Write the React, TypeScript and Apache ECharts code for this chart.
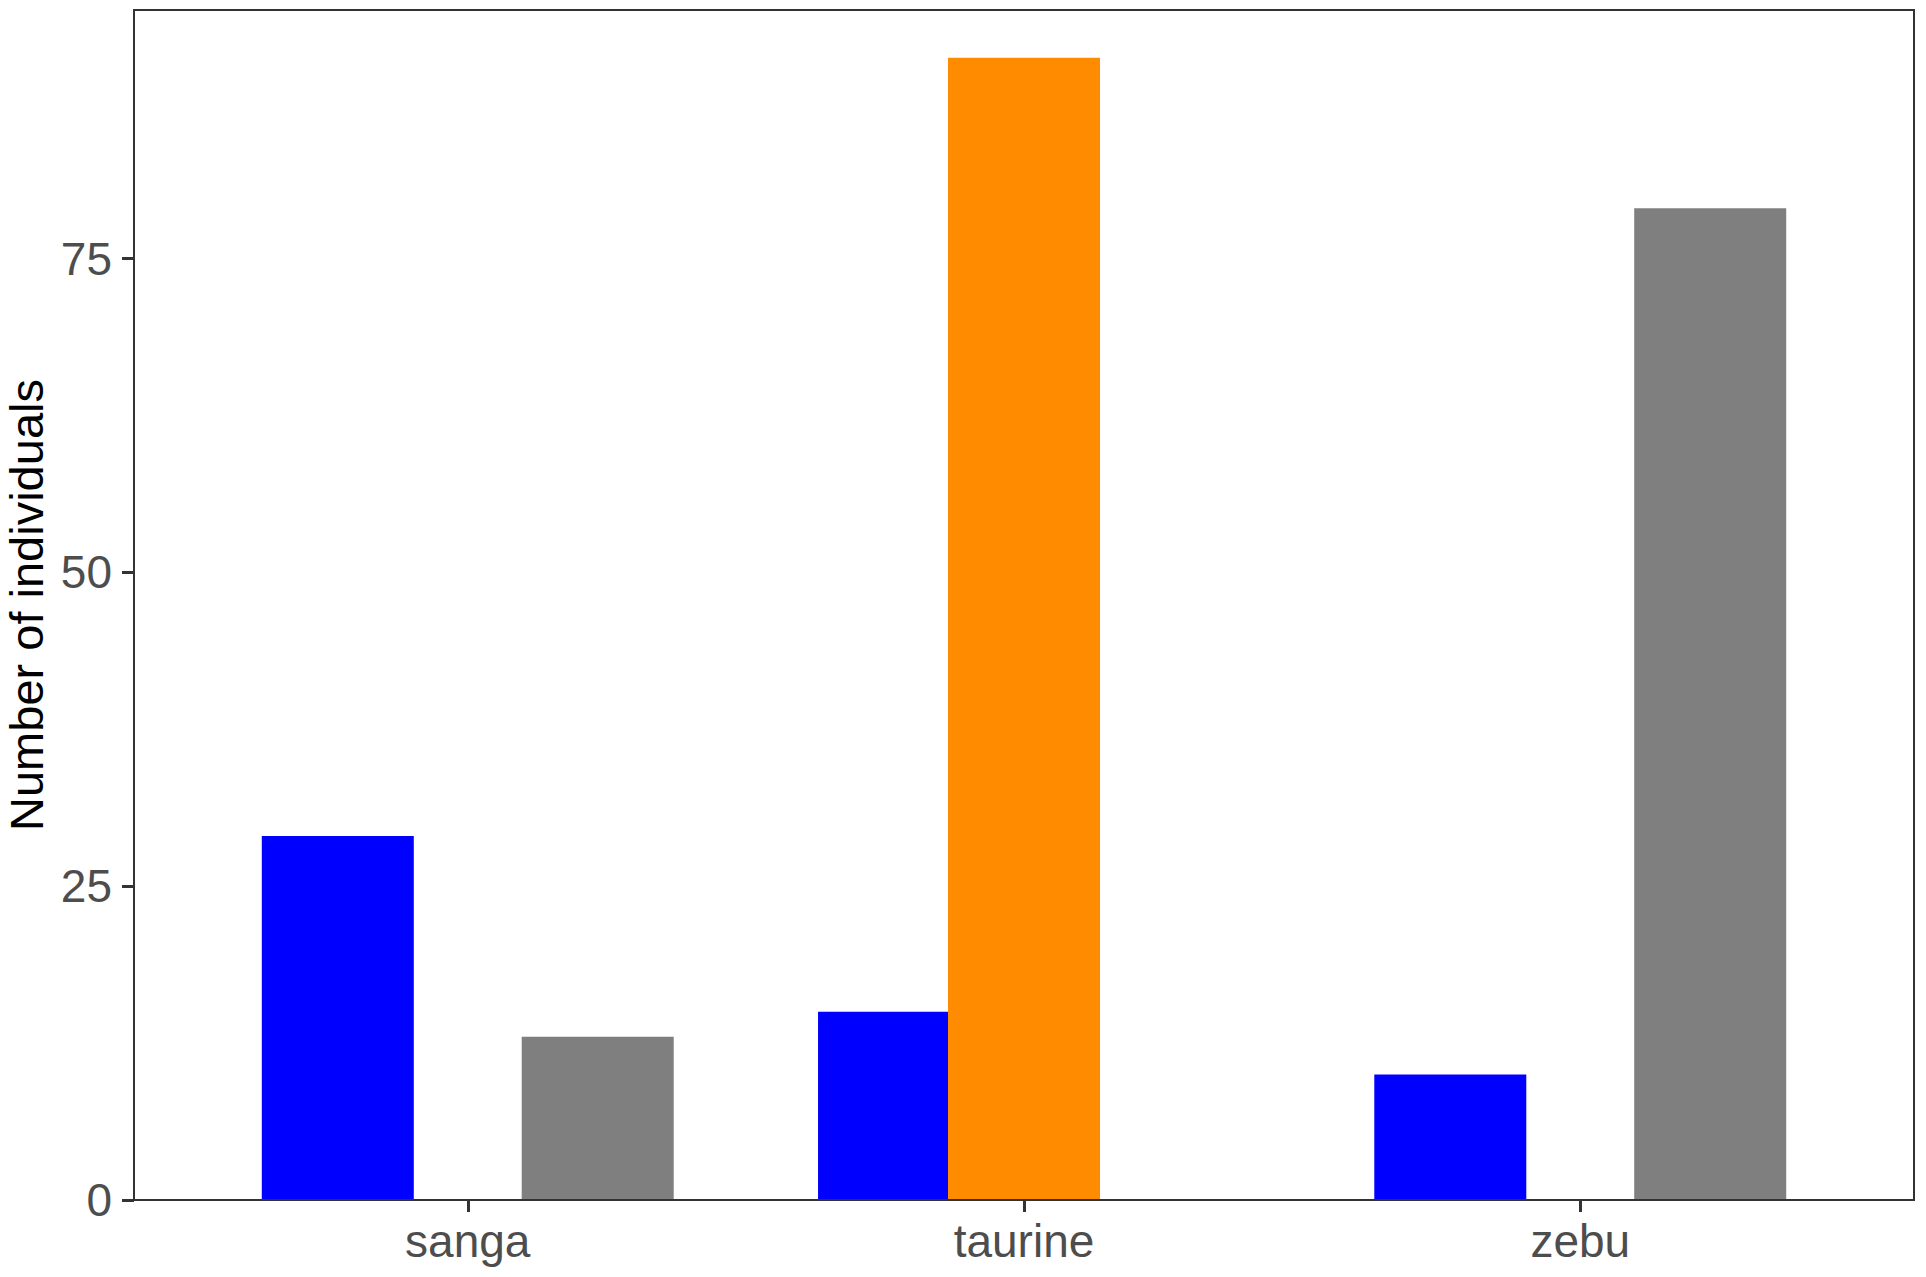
import React, { useEffect, useRef } from "react";
import * as echarts from "echarts";

const categories = ["sanga", "taurine", "zebu"];
const seriesNames = ["Group 1", "Group 2", "Group 3"];
const blueValues: (number | null)[] = [29, 15, 10];
const orangeValues: (number | null)[] = [null, 91, null];
const grayValues: (number | null)[] = [13, null, 79];
const colors = ["#0000FF", "#FF8C00", "#7F7F7F"];
const yTicks = [0, 25, 50, 75];
const yTitle = "Number of individuals";

export default function App() {
  const ref = useRef<HTMLDivElement>(null);
  useEffect(() => {
    if (!ref.current) return;
    const chart = echarts.init(ref.current, null, { renderer: "svg" });
    const W = 1926;
    const H = 1277;
    const panelLeft = 134;
    const panelRight = 1914;
    const panelTop = 10;
    const panelBottom = 1200;
    const unit = (panelRight - panelLeft) / 3.2;
    const pad = unit * 0.1;
    const font = "Liberation Sans, Arial, Helvetica, sans-serif";
    const allSeries = [blueValues, orangeValues, grayValues];
    chart.setOption({
      animation: false,
      backgroundColor: "#FFFFFF",
      grid: {
        left: panelLeft + pad,
        right: W - panelRight + pad,
        top: panelTop,
        bottom: H - panelBottom,
        containLabel: false,
        outerBoundsMode: "none",
      },
      xAxis: {
        type: "category",
        data: categories,
        boundaryGap: true,
        axisLine: { show: true, lineStyle: { color: "#333333", width: 2 } },
        axisTick: { show: true, alignWithLabel: true, length: 12, lineStyle: { color: "#333333", width: 3 } },
        axisLabel: { color: "#4D4D4D", fontSize: 46, fontFamily: font, margin: 18 },
        splitLine: { show: false },
      },
      yAxis: {
        type: "value",
        min: 0,
        max: 94.8,
        interval: 25,
        offset: pad,
        name: yTitle,
        nameLocation: "middle",
        nameGap: 82,
        nameTextStyle: { color: "#000000", fontSize: 47, lineHeight: 47, fontFamily: font },
        axisLine: { show: true, lineStyle: { color: "#333333", width: 2 } },
        axisTick: {
          show: true,
          length: 12,
          customValues: yTicks,
          lineStyle: { color: "#333333", width: 3 },
        },
        axisLabel: {
          color: "#4D4D4D",
          fontSize: 46,
          fontFamily: font,
          margin: 22,
          customValues: yTicks,
          formatter: (v: number) => (yTicks.includes(v) ? String(v) : ""),
        },
        splitLine: { show: false },
      },
      graphic: [
        {
          type: "rect",
          z: 100,
          silent: true,
          shape: { x: panelLeft, y: panelTop, width: panelRight - panelLeft, height: panelBottom - panelTop },
          style: { fill: "none", stroke: "#333333", lineWidth: 2 },
        },
      ],
      series: allSeries.map((vals, i) => ({
        name: seriesNames[i],
        type: "bar",
        data: vals.map((v) => (v === null ? "-" : v)),
        barWidth: 152,
        barGap: "-14.5%",
        itemStyle: { color: colors[i] },
        z: 2 + i,
      })),
    });
    return () => chart.dispose();
  }, []);
  return (
    <div
      ref={ref}
      style={{ position: "fixed", left: 0, top: 0, width: 1926, height: 1277 }}
    />
  );
}
